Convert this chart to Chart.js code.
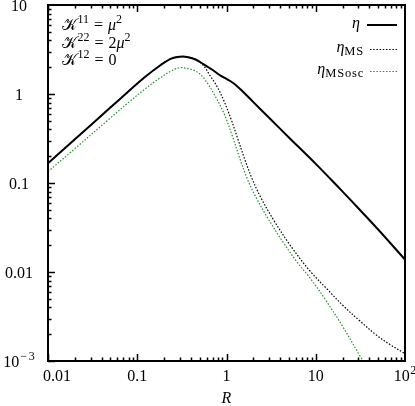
<!DOCTYPE html>
<html>
<head>
<meta charset="utf-8">
<script src="https://cdn.jsdelivr.net/npm/chart.js@4/dist/chart.umd.min.js"></script>
<style>
html,body{margin:0;padding:0;background:#fff;}
#wrap{width:415px;height:406px;position:relative;}
</style>
</head>
<body>
<div id="wrap"><canvas id="c"></canvas></div>
<script>
// ---- data ----
const R_eta = [0.01, 0.02, 0.05, 0.08, 0.12, 0.18, 0.24, 0.3, 0.36, 0.45, 0.55, 0.7, 0.85, 1.0, 1.2, 1.5, 2, 3, 5, 10, 15, 20, 30, 50, 100];
const eta   = [0.1665, 0.310, 0.703, 1.072, 1.53, 2.09, 2.50, 2.62, 2.61, 2.44, 2.17, 1.86, 1.62, 1.48, 1.32, 1.08, 0.81, 0.54, 0.325, 0.164, 0.108, 0.080, 0.052, 0.030, 0.0138];

const R_ms  = [0.01, 0.02, 0.05, 0.08, 0.12, 0.18, 0.24, 0.3, 0.36, 0.45, 0.545, 0.653, 0.783, 0.937, 1.123, 1.346, 1.612, 1.931, 2.374, 3.319, 5.146, 8.623, 13.72, 20.2, 31.3, 48.6, 67.9, 100];
const etaMS = [0.1665, 0.310, 0.703, 1.072, 1.53, 2.09, 2.50, 2.62, 2.61, 2.44, 2.117, 1.614, 1.214, 0.834, 0.524, 0.308, 0.1813, 0.1123, 0.0714, 0.0394, 0.0201, 0.01026, 0.00628, 0.0042, 0.00281, 0.00193, 0.00153, 0.00121];

const R_osc  = [0.01, 0.02, 0.05, 0.08, 0.12, 0.18, 0.24, 0.3013, 0.4213, 0.5048, 0.6046, 0.7244, 0.9375, 1.152, 1.417, 1.697, 2.033, 2.917, 4.297, 6.165, 8.623, 12.70, 20.20, 31.32, 36.56];
const etaOsc = [0.134, 0.2434, 0.5375, 0.8045, 1.124, 1.513, 1.813, 1.975, 1.861, 1.677, 1.346, 1.0, 0.604, 0.346, 0.186, 0.1138, 0.0762, 0.0399, 0.0217, 0.01296, 0.00856, 0.00497, 0.00241, 0.00114, 0.00090];

const xTicks = [0.01, 0.1, 1, 10, 100];
const xTickLabels = ['0.01', '0.1', '1', '10', '10^2'];
const yTicks = [0.001, 0.01, 0.1, 1, 10];
const yTickLabels = ['10^-3', '0.01', '0.1', '1', '10'];

const seriesNames = ['η', 'ηMS', 'ηMSosc'];
const GREEN = '#2a8f2a';
const SERIF = "'Liberation Serif', 'DejaVu Serif', serif";

function pts(xs, ys){ return xs.map((x,i)=>({x:x, y:ys[i]})); }

function partWidth(ctx, p){
  ctx.font = (p.italic ? 'italic ' : '') + p.size + 'px ' + SERIF;
  const ls = p.ls || 0;
  return ctx.measureText(p.t).width + ls * p.t.length + (p.pre || 0) + (p.post || 0);
}
// draw rich text: parts = [{t, size, italic, dy, ls, pre, post}]
function rich(ctx, parts, x, y, align){
  let w = 0;
  parts.forEach(p => { w += partWidth(ctx, p); });
  let cx = align === 'center' ? x - w/2 : (align === 'right' ? x - w : x);
  ctx.textBaseline = 'alphabetic';
  ctx.textAlign = 'left';
  parts.forEach(p => {
    ctx.font = (p.italic ? 'italic ' : '') + p.size + 'px ' + SERIF;
    cx += (p.pre || 0);
    if (p.ls){
      for (const ch of p.t){ ctx.fillText(ch, cx, y + (p.dy||0)); cx += ctx.measureText(ch).width + p.ls; }
    } else {
      ctx.fillText(p.t, cx, y + (p.dy||0)); cx += ctx.measureText(p.t).width;
    }
    cx += (p.post || 0);
  });
}
function labelParts(s){
  if (s.indexOf('^') >= 0){
    const [b, e] = s.split('^');
    if (e[0] === '-') return [{t:b, size:16}, {t:'−', size:12, dy:-7, pre:1, post:1.5}, {t:e.slice(1), size:12, dy:-7}];
    return [{t:b, size:16}, {t:e, size:12, dy:-7, pre:0.5}];
  }
  return [{t:s, size:16}];
}

const decor = {
  id: 'decor',
  afterDraw(chart){
    const ctx = chart.ctx, a = chart.chartArea;
    const xs = chart.scales.x, ys = chart.scales.y;
    ctx.save();
    ctx.fillStyle = '#000'; ctx.strokeStyle = '#000';
    // ticks (inside: bottom, top, left)
    ctx.lineWidth = 1.5;
    ctx.beginPath();
    for (let d = -2; d < 2; d++){
      for (let m = 1; m <= 9; m++){
        const v = m * Math.pow(10, d);
        const px = Math.round(xs.getPixelForValue(v)) + 0.5;
        const len = m === 1 ? 7 : 3.5;
        ctx.moveTo(px, a.bottom); ctx.lineTo(px, a.bottom - len);
        ctx.moveTo(px, a.top); ctx.lineTo(px, a.top + len);
      }
    }
    for (let d = -3; d < 1; d++){
      for (let m = 1; m <= 9; m++){
        const v = m * Math.pow(10, d);
        const py = Math.round(ys.getPixelForValue(v)) + 0.5;
        const len = m === 1 ? 7 : 3.5;
        ctx.moveTo(a.left, py); ctx.lineTo(a.left + len, py);
      }
    }
    ctx.stroke();
    // border
    ctx.lineWidth = 2;
    ctx.strokeRect(a.left, a.top, a.right - a.left, a.bottom - a.top);
    // x tick labels
    xTicks.forEach((v,i)=>{
      const px = xs.getPixelForValue(v);
      if (i === 0) rich(ctx, labelParts(xTickLabels[i]), px - 5, 381, 'left');
      else rich(ctx, labelParts(xTickLabels[i]), px, 381, 'center');
    });
    // y tick labels
    yTicks.forEach((v,i)=>{
      const py = ys.getPixelForValue(v);
      rich(ctx, labelParts(yTickLabels[i]), 19, py + 5.5, 'center');
    });
    // axis title
    rich(ctx, [{t:'R', size:16, italic:true}], (a.left + a.right)/2, 403, 'center');
    // annotation
    const K = {t:'𝒦', size:16, post:0.5};
    const sup = s => ({t:s, size:12, dy:-7});
    rich(ctx, [K, sup('11'), {t:'=', size:16, pre:5, post:5}, {t:'μ', size:16, italic:true}, sup('2')], 62, 30, 'left');
    rich(ctx, [K, sup('22'), {t:'=', size:16, pre:5, post:5}, {t:'2', size:16}, {t:'μ', size:16, italic:true}, sup('2')], 62, 47.5, 'left');
    rich(ctx, [K, sup('12'), {t:'=', size:16, pre:5, post:5}, {t:'0', size:16}], 62, 65, 'left');
    // legend
    rich(ctx, [{t:'η', size:16, italic:true}], 360, 28, 'right');
    rich(ctx, [{t:'η', size:16, italic:true}, {t:'MS', size:12.5, dy:3, ls:0.8}], 364, 52, 'right');
    rich(ctx, [{t:'η', size:16, italic:true}, {t:'MSosc', size:12.5, dy:3, ls:0.8}], 364, 74, 'right');
    ctx.lineWidth = 2; ctx.setLineDash([]);
    ctx.beginPath(); ctx.moveTo(367, 25); ctx.lineTo(397, 25); ctx.stroke();
    ctx.lineWidth = 1.2; ctx.setLineDash([1.5, 1.7]);
    ctx.beginPath(); ctx.moveTo(370, 49.5); ctx.lineTo(397, 49.5); ctx.stroke();
    ctx.strokeStyle = GREEN;
    ctx.beginPath(); ctx.moveTo(370, 71.5); ctx.lineTo(397, 71.5); ctx.stroke();
    ctx.restore();
  }
};

const common = {pointRadius: 0, fill: false, tension: 0.35};
new Chart(document.getElementById('c'), {
  type: 'line',
  data: {
    datasets: [
      Object.assign({label: seriesNames[1], data: pts(R_ms, etaMS), borderColor: '#000', borderWidth: 1.2, borderDash: [1.5, 1.7]}, common),
      Object.assign({label: seriesNames[2], data: pts(R_osc, etaOsc), borderColor: GREEN, borderWidth: 1.2, borderDash: [1.5, 1.7]}, common),
      Object.assign({label: seriesNames[0], data: pts(R_eta, eta), borderColor: '#000', borderWidth: 2}, common)
    ]
  },
  options: {
    responsive: true,
    maintainAspectRatio: false,
    animation: false,
    layout: {padding: {left: 48, right: 10, top: 5, bottom: 45}},
    plugins: {legend: {display: false}, tooltip: {enabled: false}},
    scales: {
      x: {type: 'logarithmic', min: 0.01, max: 100, display: false},
      y: {type: 'logarithmic', min: 0.001, max: 10, display: false}
    }
  },
  plugins: [decor]
});
</script>
</body>
</html>
